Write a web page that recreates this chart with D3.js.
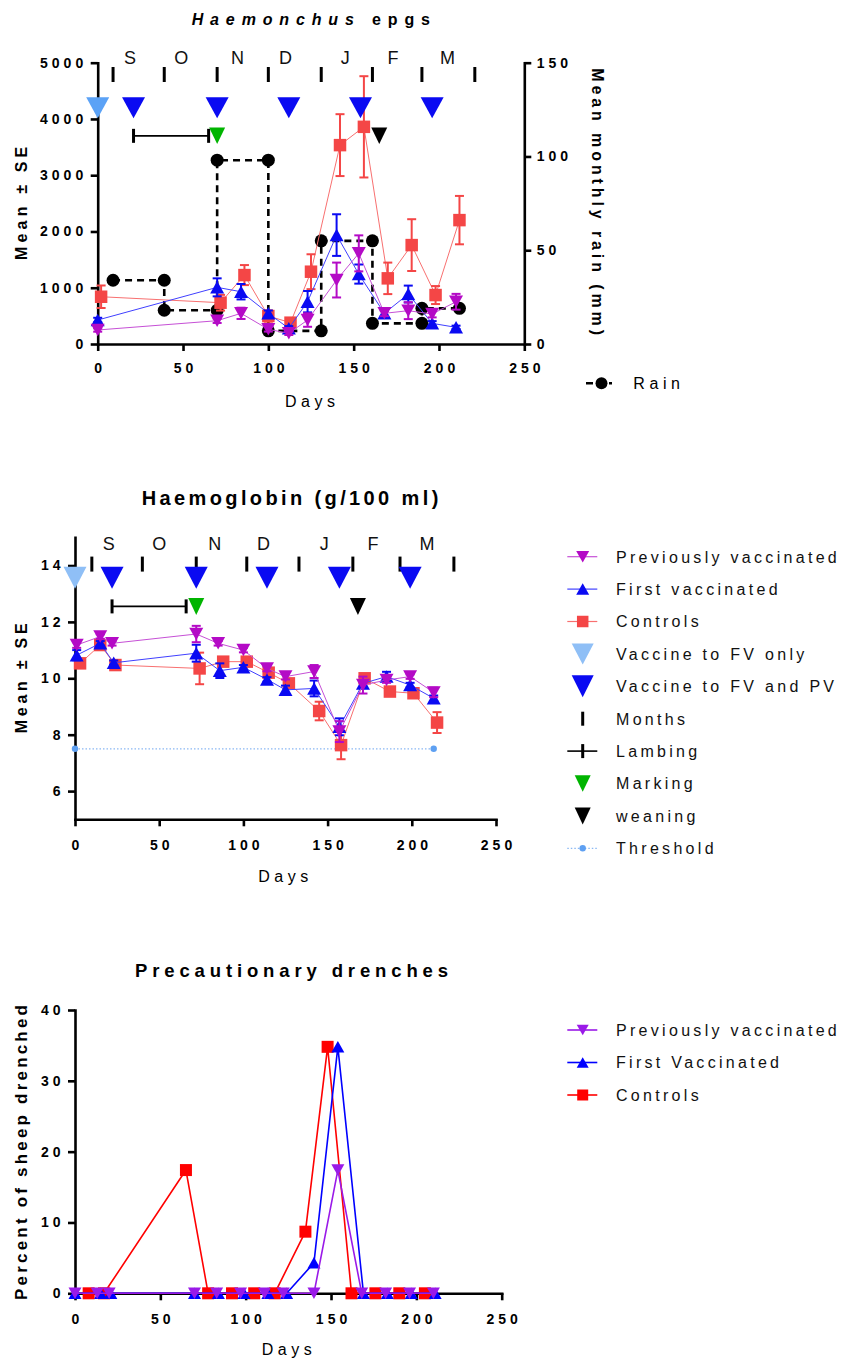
<!DOCTYPE html>
<html>
<head>
<meta charset="utf-8">
<title>Haemonchus epgs, haemoglobin and precautionary drenches</title>
<script src="https://cdn.jsdelivr.net/npm/d3@7/dist/d3.min.js"></script>
<style>
  html, body { margin: 0; padding: 0; background: #fff; }
  svg { display: block; }
</style>
</head>
<body>
<svg id="fig" width="846" height="1360"></svg>
<script>
// ---------- shared axis values ----------
const dayTicks = [0, 50, 100, 150, 200, 250];
const monthNames = ["S", "O", "N", "D", "J", "F", "M"];

// ---------- Haemonchus epgs (mean ± SE) with monthly rain ----------
const epgTicks = [0, 1000, 2000, 3000, 4000, 5000];
const rainTicks = [0, 50, 100, 150];
const epgPvDays = [0, 70, 84, 100, 112, 123, 140, 153, 168, 182, 196, 210];
const epgPv     = [249, 414, 545, 261, 190, 426, 1137, 1611, 545, 592, 533, 751];
const epgPvSE   = [30, 40, 100, 40, 30, 120, 310, 320, 50, 150, 60, 140];
const epgFvDays = [0, 70, 84, 100, 112, 123, 140, 153, 168, 182, 196, 210];
const epgFv     = [426, 1007, 929, 545, 278, 752, 1936, 1243, 545, 888, 367, 296];
const epgFvSE   = [40, 160, 137, 50, 40, 190, 370, 170, 50, 150, 40, 30];
const epgCtlDays = [2, 72, 86, 100, 113, 125, 142, 156, 170, 184, 198, 212];
const epgCtl     = [840, 734, 1225, 497, 379, 1285, 3535, 3860, 1167, 1758, 870, 2202];
const epgCtlSE   = [200, 140, 178, 100, 50, 310, 550, 900, 280, 460, 160, 430];
// monthly mean rain as steps: each month's value is held from its first to its last day
const rainDays = [9, 39, 39, 70, 70, 100, 100, 131, 131, 161, 161, 190, 190, 212];
const rainMm   = [34, 34, 18, 18, 98, 98, 7, 7, 55, 55, 11, 11, 19, 19];
const epgMonthStarts = [9, 39, 70, 100, 131, 161, 190, 221];
const epgMonthMid    = [19, 49, 82, 110, 145, 173, 205];
const epgVaccFV  = [0];
const epgVaccAll = [21, 70, 112, 154, 196];
const epgLambing = [21, 65];
const epgMarking = [70];
const epgWeaning = [165];
// annotation rows, in epg units
const epgMonthRow = 4790, epgMonthLabelRow = 5103, epgVaccRow = 4200, epgEventRow = 3700;

// ---------- Haemoglobin (g/100 ml) ----------
const hbTicks = [6, 8, 10, 12, 14];
const hbPvDays = [1, 15, 22, 72, 85, 100, 114, 125, 142, 157, 171, 185, 199, 213];
const hbPv     = [11.18, 11.48, 11.24, 11.57, 11.24, 11.0, 10.35, 10.06, 10.24, 8.11, 9.76, 9.94, 10.06, 9.5];
const hbPvSE   = [0.1, 0.08, 0.08, 0.29, 0.08, 0.08, 0.1, 0.1, 0.23, 0.37, 0.3, 0.1, 0.08, 0.17];
const hbFvDays = [1, 15, 23, 72, 86, 100, 114, 125, 142, 157, 171, 185, 199, 213];
const hbFv     = [10.82, 11.24, 10.55, 10.89, 10.27, 10.39, 9.96, 9.59, 9.64, 8.28, 9.82, 10.06, 9.76, 9.29];
const hbFvSE   = [0.18, 0.08, 0.08, 0.3, 0.26, 0.08, 0.08, 0.15, 0.28, 0.3, 0.12, 0.17, 0.08, 0.1];
const hbCtlDays = [3, 15, 24, 74, 88, 102, 115, 127, 145, 158, 172, 187, 201, 215];
const hbCtl     = [10.53, 11.18, 10.47, 10.35, 10.59, 10.59, 10.2, 9.82, 8.84, 7.63, 10.0, 9.53, 9.47, 8.43];
const hbCtlSE   = [0.1, 0.1, 0.08, 0.56, 0.08, 0.1, 0.08, 0.1, 0.33, 0.5, 0.1, 0.08, 0.08, 0.37];
const hbThreshold = 7.5;
const hbThresholdDays = [0, 213];
const hbMonthStarts = [10, 40, 72, 102, 133, 165, 193, 225];
const hbMonthMid    = [20, 50, 83, 112, 148, 177, 209];
const hbVaccFV  = [0];
const hbVaccAll = [22, 72, 114, 157, 199];
const hbLambing = [22, 66];
const hbMarking = [72];
const hbWeaning = [168];
const hbMonthRow = 14.05, hbMonthLabelRow = 14.77, hbVaccRow = 13.57, hbEventRow = 12.55;

// ---------- Precautionary drenches (% of sheep) ----------
const drTicks = [0, 10, 20, 30, 40];
const drPvDays = [0, 13, 20, 70, 83, 97, 111, 122, 140, 154, 168, 182, 196, 210];
const drPv     = [0, 0, 0, 0, 0, 0, 0, 0, 0, 17.4, 0, 0, 0, 0];
const drFvDays = [0, 15, 21, 70, 84, 99, 113, 124, 140, 154, 169, 183, 197, 211];
const drFv     = [0, 0, 0, 0, 0, 0, 0, 0, 4.3, 34.8, 0, 0, 0, 0];
const drCtlDays = [8, 17, 65, 78, 92, 105, 117, 135, 148, 162, 176, 190, 205];
const drCtl     = [0, 0, 17.4, 0, 0, 0, 0, 8.7, 34.8, 0, 0, 0, 0];

// ================= drawing =================
const FONT = '"Liberation Sans", Arial, Helvetica, sans-serif';
const svg = d3.select("#fig").attr("font-family", FONT);
const plain = d3.format("d");

function panel(frame, yDomain) {
  return {
    frame,
    g: svg.append("g"),
    x: d3.scaleLinear().domain([0, 250]).range([frame.left, frame.right]),
    y: d3.scaleLinear().domain(yDomain).range([frame.bottom, frame.top])
  };
}

function styleAxis(g) {
  g.attr("font-family", FONT).attr("font-size", 14).attr("font-weight", "bold");
  g.select(".domain").attr("stroke", "#000").attr("stroke-width", 2.6).attr("stroke-linecap", "square");
  g.selectAll(".tick line").attr("stroke", "#000").attr("stroke-width", 2.6);
  g.selectAll(".tick text").attr("fill", "#000").style("letter-spacing", "4px");
}

function drawAxes(p, yTicks, xPad) {
  const gx = p.g.append("g").attr("transform", `translate(0,${p.frame.bottom})`)
    .call(d3.axisBottom(p.x).tickValues(dayTicks).tickFormat(plain)
      .tickSize(7).tickSizeOuter(0).tickPadding(xPad));
  styleAxis(gx);
  gx.selectAll(".tick text").attr("dx", 2);
  const gy = p.g.append("g").attr("transform", `translate(${p.frame.left},0)`)
    .call(d3.axisLeft(p.y).tickValues(yTicks).tickFormat(plain)
      .tickSize(7).tickSizeOuter(0).tickPadding(3.5));
  styleAxis(gy);
}

// letter-spaced text stretched to a given width (start-anchored)
function spacedText(parent, str, x, y, size, weight, width, rotate) {
  const t = parent.append("text")
    .attr("font-size", size).attr("font-weight", weight).attr("fill", "#000")
    .attr("transform", `translate(${x},${y})` + (rotate ? ` rotate(${rotate})` : ""))
    .text(str);
  fit(t, width);
  return t;
}
function fit(t, width) {
  const node = t.node();
  const n = node.getNumberOfChars();
  const natural = node.getComputedTextLength();
  if (n > 1) t.style("letter-spacing", ((width - natural) / (n - 1)) + "px");
}

function shapePath(type, w, h) {
  if (type === "square") return `M${-w / 2},${-h / 2}h${w}v${h}h${-w}Z`;
  if (type === "up") return `M0,${-h / 2}L${w / 2},${h / 2}L${-w / 2},${h / 2}Z`;
  if (type === "down") return `M${-w / 2},${-h / 2}L${w / 2},${-h / 2}L0,${h / 2}Z`;
  return "";
}

function series(p, days, vals, se, st) {
  const pts = days.map((d, i) => ({ d, v: vals[i], e: se ? se[i] : 0 }));
  const g = p.g.append("g");
  g.append("path").datum(pts)
    .attr("fill", "none").attr("stroke", st.line).attr("stroke-width", st.lineWidth)
    .attr("stroke-linejoin", "round")
    .attr("d", d3.line().x(q => p.x(q.d)).y(q => p.y(q.v)));
  if (se) {
    const eb = g.append("g").attr("stroke", st.color).attr("stroke-width", 2);
    eb.selectAll("line.stem").data(pts).join("line").attr("class", "stem")
      .attr("x1", q => p.x(q.d)).attr("x2", q => p.x(q.d))
      .attr("y1", q => p.y(q.v - q.e)).attr("y2", q => p.y(q.v + q.e));
    [-1, 1].forEach(s => {
      eb.selectAll("line.cap" + (s + 1)).data(pts).join("line").attr("class", "cap" + (s + 1))
        .attr("x1", q => p.x(q.d) - 4.5).attr("x2", q => p.x(q.d) + 4.5)
        .attr("y1", q => p.y(q.v + s * q.e)).attr("y2", q => p.y(q.v + s * q.e));
    });
  }
  g.selectAll("path.mk").data(pts).join("path").attr("class", "mk")
    .attr("transform", q => `translate(${p.x(q.d)},${p.y(q.v)})`)
    .attr("d", shapePath(st.shape, st.w, st.h))
    .attr("fill", st.color);
}

function eventMarks(p, days, row, w, h, color) {
  p.g.append("g").selectAll("path").data(days).join("path")
    .attr("transform", d => `translate(${p.x(d)},${p.y(row)})`)
    .attr("d", shapePath("down", w, h)).attr("fill", color);
}

function monthRow(p, starts, mids, row, labelRow) {
  const g = p.g.append("g");
  g.selectAll("line").data(starts).join("line")
    .attr("x1", d => p.x(d)).attr("x2", d => p.x(d))
    .attr("y1", p.y(row) - 7.5).attr("y2", p.y(row) + 7.5)
    .attr("stroke", "#000").attr("stroke-width", 3);
  g.selectAll("text").data(mids).join("text")
    .attr("x", d => p.x(d)).attr("y", p.y(labelRow) + 6.6)
    .attr("text-anchor", "middle").attr("font-size", 18).attr("fill", "#111")
    .text((d, i) => monthNames[i]);
}

function lambingBar(p, span, row) {
  const g = p.g.append("g").attr("stroke", "#000");
  const y = p.y(row);
  g.append("line").attr("x1", p.x(span[0])).attr("x2", p.x(span[1]))
    .attr("y1", y).attr("y2", y).attr("stroke-width", 1.6);
  g.selectAll("line.cap").data(span).join("line").attr("class", "cap")
    .attr("x1", d => p.x(d)).attr("x2", d => p.x(d))
    .attr("y1", y - 7).attr("y2", y + 7).attr("stroke-width", 3);
}

// ---------- styles ----------
const sty = {
  epgCtl: { color: "#f44646", line: "#f87070", lineWidth: 1, shape: "square", w: 12.5, h: 12.5 },
  epgFv:  { color: "#0a0af2", line: "#4040ff", lineWidth: 1, shape: "up", w: 14, h: 12.5 },
  epgPv:  { color: "#b40ac6", line: "#c650d6", lineWidth: 1, shape: "down", w: 14, h: 12.5 },
  drCtl:  { color: "#ff0000", line: "#ff0000", lineWidth: 1.6, shape: "square", w: 12, h: 12 },
  drFv:   { color: "#0000ff", line: "#0000ff", lineWidth: 1.6, shape: "up", w: 13, h: 11.5 },
  drPv:   { color: "#9a1ae8", line: "#9a1ae8", lineWidth: 1.6, shape: "down", w: 13, h: 11.5 }
};
const VACC_FV_TOP = "#5ba2f6", VACC_FV_MID = "#8fbff6", VACC_ALL = "#0a0af2";
const MARK_GREEN = "#00b400";

// ================= Panel 1: Haemonchus epgs =================
const p1 = panel({ left: 97.7, right: 524.3, top: 62.7, bottom: 344 }, [0, 5000]);
const rainY = d3.scaleLinear().domain([0, 150]).range([344, 62.7]);
drawAxes(p1, epgTicks, 12);
const gRain = p1.g.append("g").attr("transform", `translate(${p1.frame.right},0)`)
  .call(d3.axisRight(rainY).tickValues(rainTicks).tickFormat(plain)
    .tickSize(7).tickSizeOuter(0).tickPadding(5.4));
styleAxis(gRain);

// rain steps
const rainPts = rainDays.map((d, i) => ({ d, v: rainMm[i] }));
p1.g.append("path").datum(rainPts)
  .attr("fill", "none").attr("stroke", "#000").attr("stroke-width", 2.6).attr("stroke-dasharray", "7,5")
  .attr("d", d3.line().x(q => p1.x(q.d)).y(q => rainY(q.v)));
p1.g.append("g").selectAll("circle").data(rainPts).join("circle")
  .attr("cx", q => p1.x(q.d)).attr("cy", q => rainY(q.v)).attr("r", 6.5).attr("fill", "#000");

series(p1, epgCtlDays, epgCtl, epgCtlSE, sty.epgCtl);
series(p1, epgFvDays, epgFv, epgFvSE, sty.epgFv);
series(p1, epgPvDays, epgPv, epgPvSE, sty.epgPv);

monthRow(p1, epgMonthStarts, epgMonthMid, epgMonthRow, epgMonthLabelRow);
eventMarks(p1, epgVaccFV, epgVaccRow, 23, 21, VACC_FV_TOP);
eventMarks(p1, epgVaccAll, epgVaccRow, 23, 21, VACC_ALL);
lambingBar(p1, epgLambing, epgEventRow);
eventMarks(p1, epgMarking, epgEventRow, 16, 16.5, MARK_GREEN);
eventMarks(p1, epgWeaning, epgEventRow, 16, 16.5, "#000");

// titles
{
  const t = svg.append("text").attr("font-size", 16).attr("font-weight", "bold")
    .attr("transform", "translate(191.7,25)");
  t.append("tspan").attr("font-style", "italic").text("Haemonchus");
  t.append("tspan").text(" epgs");
  fit(t, 238.3);
}
spacedText(svg, "Mean ± SE", 26.7, 260, 16, "bold", 113.3, -90);
spacedText(svg, "Mean monthly rain (mm)", 591.7, 68.3, 16, "bold", 266.7, 90);
spacedText(svg, "Days", 285, 407, 16, "normal", 50);

// rain legend
{
  const g = svg.append("g");
  g.append("line").attr("x1", 586).attr("x2", 613).attr("y1", 383.3).attr("y2", 383.3)
    .attr("stroke", "#000").attr("stroke-width", 2.6).attr("stroke-dasharray", "7,4,7,5,3");
  g.append("circle").attr("cx", 601.5).attr("cy", 383.3).attr("r", 6).attr("fill", "#000");
  spacedText(g, "Rain", 633.3, 389.2, 16, "normal", 46.7);
}

// ================= Panel 2: Haemoglobin =================
const p2 = panel({ left: 75, right: 496, top: 537.3, bottom: 819.3 }, [5, 15]);
drawAxes(p2, hbTicks, 13.5);

// anaemia threshold
{
  const g = p2.g.append("g");
  g.append("line").attr("x1", p2.x(hbThresholdDays[0])).attr("x2", p2.x(hbThresholdDays[1]))
    .attr("y1", p2.y(hbThreshold)).attr("y2", p2.y(hbThreshold))
    .attr("stroke", "#8ab8f4").attr("stroke-width", 1.2).attr("stroke-dasharray", "1.5,2");
  g.selectAll("circle").data(hbThresholdDays).join("circle")
    .attr("cx", d => p2.x(d)).attr("cy", p2.y(hbThreshold)).attr("r", 3.2).attr("fill", "#5ea0f2");
}

series(p2, hbCtlDays, hbCtl, hbCtlSE, sty.epgCtl);
series(p2, hbFvDays, hbFv, hbFvSE, sty.epgFv);
series(p2, hbPvDays, hbPv, hbPvSE, sty.epgPv);

monthRow(p2, hbMonthStarts, hbMonthMid, hbMonthRow, hbMonthLabelRow);
eventMarks(p2, hbVaccFV, hbVaccRow, 23, 22, VACC_FV_MID);
eventMarks(p2, hbVaccAll, hbVaccRow, 23, 22, VACC_ALL);
lambingBar(p2, hbLambing, hbEventRow);
eventMarks(p2, hbMarking, hbEventRow, 16, 17, MARK_GREEN);
eventMarks(p2, hbWeaning, hbEventRow, 16, 17, "#000");

spacedText(svg, "Haemoglobin (g/100 ml)", 141.7, 504.7, 20, "bold", 296.6);
spacedText(svg, "Mean ± SE", 26.7, 733.3, 16, "bold", 110, -90);
spacedText(svg, "Days", 258.3, 881.7, 16, "normal", 50);

// legend
const hbLegend = [
  { label: "Previously vaccinated", kind: "series", st: sty.epgPv },
  { label: "First vaccinated", kind: "series", st: sty.epgFv },
  { label: "Controls", kind: "series", st: sty.epgCtl },
  { label: "Vaccine to FV only", kind: "tri", color: VACC_FV_MID, w: 22, h: 21 },
  { label: "Vaccine to FV and PV", kind: "tri", color: VACC_ALL, w: 22, h: 22 },
  { label: "Months", kind: "bar" },
  { label: "Lambing", kind: "lamb" },
  { label: "Marking", kind: "tri", color: MARK_GREEN, w: 16, h: 16.5 },
  { label: "weaning", kind: "tri", color: "#000", w: 16, h: 17 },
  { label: "Threshold", kind: "thr" }
];
function legend(items, y0, step) {
  const g = svg.append("g");
  items.forEach((it, i) => {
    const y = y0 + i * step;
    const cx = 582.7;
    if (it.kind === "series") {
      g.append("line").attr("x1", 567.3).attr("x2", 597.3).attr("y1", y).attr("y2", y)
        .attr("stroke", it.st.line).attr("stroke-width", Math.max(1.2, it.st.lineWidth));
      g.append("path").attr("transform", `translate(${cx},${y})`)
        .attr("d", shapePath(it.st.shape, it.st.w - 1, it.st.h - 1)).attr("fill", it.st.color);
    } else if (it.kind === "tri") {
      g.append("path").attr("transform", `translate(${cx},${y})`)
        .attr("d", shapePath("down", it.w, it.h)).attr("fill", it.color);
    } else if (it.kind === "bar") {
      g.append("line").attr("x1", cx).attr("x2", cx).attr("y1", y - 7).attr("y2", y + 7)
        .attr("stroke", "#000").attr("stroke-width", 3);
    } else if (it.kind === "lamb") {
      g.append("line").attr("x1", 567.3).attr("x2", 597.3).attr("y1", y).attr("y2", y)
        .attr("stroke", "#000").attr("stroke-width", 1.6);
      g.append("line").attr("x1", cx).attr("x2", cx).attr("y1", y - 7).attr("y2", y + 7)
        .attr("stroke", "#000").attr("stroke-width", 3);
    } else if (it.kind === "thr") {
      g.append("line").attr("x1", 567.3).attr("x2", 597.3).attr("y1", y).attr("y2", y)
        .attr("stroke", "#8ab8f4").attr("stroke-width", 1.2).attr("stroke-dasharray", "1.5,2");
      g.append("circle").attr("cx", cx).attr("cy", y).attr("r", 3.2).attr("fill", "#5ea0f2");
    }
    g.append("text").attr("x", 616).attr("y", y + 5.8)
      .attr("font-size", 16).attr("fill", "#111").style("letter-spacing", "3.3px")
      .text(it.label);
  });
}
legend(hbLegend, 556.7, 32.4);

// ================= Panel 3: Precautionary drenches =================
const p3 = panel({ left: 75, right: 501.7, top: 1010, bottom: 1293.3 }, [0, 40]);
drawAxes(p3, drTicks, 13.5);
series(p3, drCtlDays, drCtl, null, sty.drCtl);
series(p3, drFvDays, drFv, null, sty.drFv);
series(p3, drPvDays, drPv, null, sty.drPv);

spacedText(svg, "Precautionary drenches", 135, 976.7, 18.5, "bold", 313);
spacedText(svg, "Percent of sheep drenched", 26.7, 1300, 17, "bold", 295, -90);
spacedText(svg, "Days", 261.7, 1355, 16, "normal", 50);

legend([
  { label: "Previously vaccinated", kind: "series", st: sty.drPv },
  { label: "First Vaccinated", kind: "series", st: sty.drFv },
  { label: "Controls", kind: "series", st: sty.drCtl }
], 1030, 32.5);
</script>
</body>
</html>
